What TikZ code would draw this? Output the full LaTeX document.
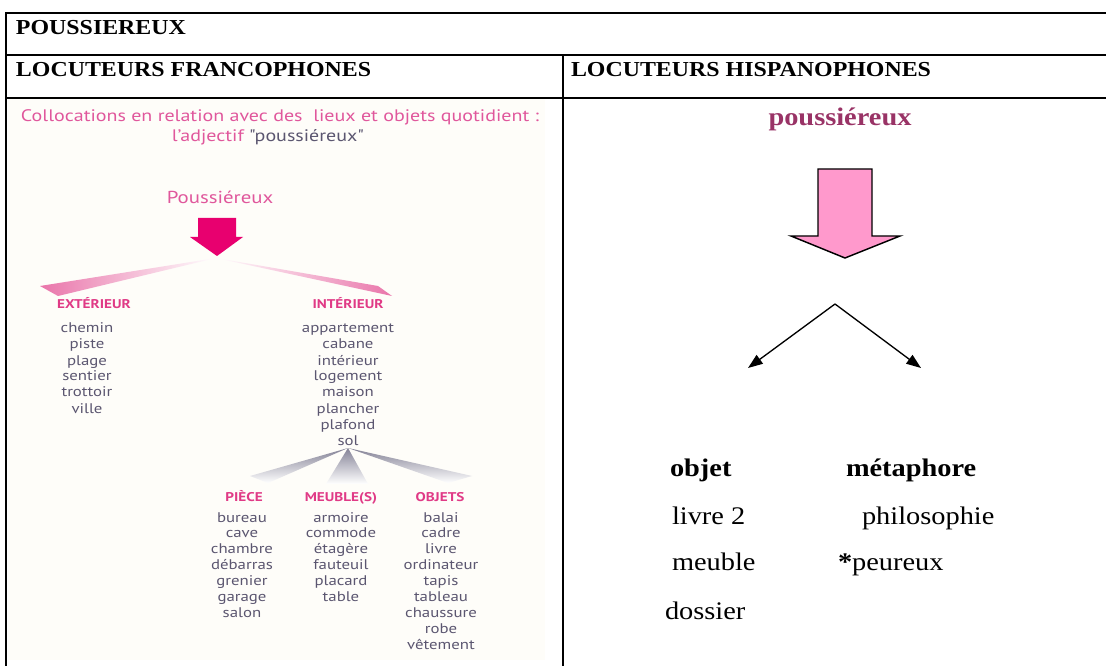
\documentclass[tikz,border=0pt]{standalone}
\usepackage{fontspec}
\setmainfont{Liberation Serif}[FakeStretch=1.12]
\newfontfamily\lsans{PT Sans}[FakeStretch=1.2]
\usetikzlibrary{arrows.meta}
\definecolor{titlepink}{HTML}{E0579C}
\definecolor{catpink}{HTML}{E03A86}
\definecolor{arrowmag}{HTML}{E8006F}
\definecolor{listgray}{HTML}{5B5670}
\definecolor{maroon}{HTML}{993366}
\definecolor{lightpink}{HTML}{FF99CC}
\definecolor{paper}{HTML}{FEFDF9}
\definecolor{fangray}{HTML}{6E6C84}
\begin{document}
\begin{tikzpicture}[x=0.75pt,y=-0.75pt,
  every node/.style={inner sep=0pt,outer sep=0pt},
  rule/.style={line width=1.5pt,line cap=rect},
  hdr/.style={anchor=base west,font=\fontsize{16}{19}\selectfont\bfseries},
  sp/.style={anchor=base west,font=\fontsize{19}{22}\selectfont},
  spb/.style={sp,font=\fontsize{19}{22}\selectfont\bfseries},
  lst/.style={anchor=base,font=\lsans\fontsize{10.5}{12}\selectfont,text=listgray},
  cat/.style={anchor=base,font=\lsans\bfseries\fontsize{9.5}{11}\selectfont,text=catpink},
  ttl/.style={anchor=base,font=\lsans\fontsize{12.5}{14}\selectfont,text=titlepink},
  conn/.style={line width=1pt,-{Triangle[length=11pt,width=8pt]}}]
\useasboundingbox (0,0) rectangle (1106,666);
% left picture background
\fill[paper] (8,99) rectangle (545,660);
% table rules
\coordinate (tl) at (6,13); \coordinate (tr) at (1106,13);
\coordinate (r1l) at (6,55); \coordinate (r1r) at (1106,55);
\coordinate (r2l) at (6,98); \coordinate (r2r) at (1106,98);
\coordinate (bl) at (6,666); \coordinate (mt) at (563,55); \coordinate (mb) at (563,666);
\draw[rule] (tl) -- (tr);
\draw[rule] (r1l) -- (r1r);
\draw[rule] (r2l) -- (r2r);
\draw[rule] (tl) -- (bl);
\draw[rule] (mt) -- (mb);
% headers
\node[hdr] (h1) at (16,35) {POUSSIEREUX};
\node[hdr] (h2) at (16,77) {LOCUTEURS FRANCOPHONES};
\node[hdr] (h3) at (571,77) {LOCUTEURS HISPANOPHONES};
% ---------- left panel ----------
\node[ttl] (t1) at (280,122) {Collocations en relation avec des \ lieux et objets quotidient :};
\node[ttl] (t2) at (268,142) {l’adjectif \textcolor{listgray}{"poussiéreux"}};
\node[ttl,font=\lsans\fontsize{13}{15}\selectfont] (pw) at (220,204) {Poussiéreux};
\fill[arrowmag] (198,218) -- (236,218) -- (236,237) -- (243,237) -- (217,256) -- (190,237) -- (198,237) -- cycle;
\coordinate (apexL) at (216,258);
\shade[left color=catpink!70, right color=white] (apexL) -- (40,286) -- (58,296) -- cycle;
\shade[left color=white, right color=catpink!70] (apexL) -- (378,286) -- (392,296) -- cycle;
\node[cat] (ext) at (94,309) {EXTÉRIEUR};
\node[cat] (int) at (348,309) {INTÉRIEUR};
\foreach \w [count=\i from 0] in {chemin,piste,plage,sentier,trottoir,ville}
  \node[lst] (e\i) at (87,333+16*\i) {\w};
\foreach \w [count=\i from 0] in {appartement,cabane,intérieur,logement,maison,plancher,plafond,sol}
  \node[lst] (n\i) at (348,333+16*\i) {\w};
\coordinate (apexS) at (348,448);
\shade[top color=fangray!85, bottom color=white] (apexS) -- (250,476) -- (268,483) -- cycle;
\shade[top color=fangray!85, bottom color=white] (apexS) -- (326,484) -- (368,484) -- cycle;
\shade[top color=fangray!85, bottom color=white] (apexS) -- (448,483) -- (472,476) -- cycle;
\node[cat] (pie) at (244,501) {PIÈCE};
\node[cat] (meu) at (341,501) {MEUBLE(S)};
\node[cat] (obj) at (440,501) {OBJETS};
\foreach \w [count=\i from 0] in {bureau,cave,chambre,débarras,grenier,garage,salon}
  \node[lst] (p\i) at (242,522+15.9*\i) {\w};
\foreach \w [count=\i from 0] in {armoire,commode,étagère,fauteuil,placard,table}
  \node[lst] (m\i) at (341,522+15.9*\i) {\w};
\foreach \w [count=\i from 0] in {balai,cadre,livre,ordinateur,tapis,tableau,chaussure,robe,vêtement}
  \node[lst] (o\i) at (441,522+15.9*\i) {\w};
% ---------- right panel ----------
\node[anchor=base,font=\fontsize{19}{22}\selectfont\bfseries,text=maroon] (pr) at (840,126) {poussiéreux};
\filldraw[fill=lightpink,draw=black,line width=1.1pt,line join=miter]
  (818,169) -- (872,169) -- (872,236) -- (900,236) -- (845,258) -- (791,236) -- (818,236) -- cycle;
\coordinate (apexR) at (835,304);
\coordinate (endA) at (748,368);
\coordinate (endB) at (921,368);
\draw[conn] (apexR) -- (endA);
\draw[conn] (apexR) -- (endB);
\node[spb] (ob) at (670,476) {objet};
\node[spb] (me) at (846,476) {métaphore};
\node[sp] (li) at (672,524) {livre 2};
\node[sp] (ph) at (862,524) {philosophie};
\node[sp] (mu) at (672,570) {meuble};
\node[sp] (pe) at (838,570) {\textbf{*}peureux};
\node[sp] (do) at (665,619) {dossier};
\end{tikzpicture}
\end{document}
